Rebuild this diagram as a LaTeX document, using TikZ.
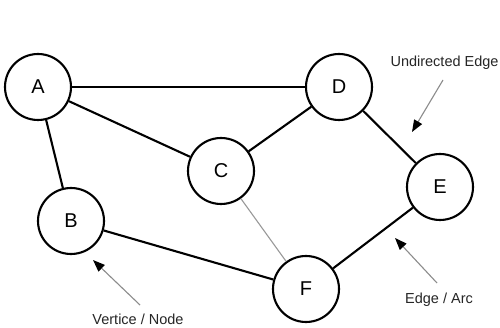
\documentclass[tikz,border=0pt]{standalone}
\usepackage{fontspec}
\setmainfont{Liberation Sans}
\usetikzlibrary{arrows.meta}
\begin{document}
\begin{tikzpicture}[x=1pt,y=-1pt,
  vert/.style={circle,draw=black,line width=2.1pt,minimum size=66pt,inner sep=0pt,font=\fontsize{20}{24}\selectfont},
  edge/.style={line width=2.1pt,black},
  thinedge/.style={line width=1.1pt,color=black!40},
  note/.style={font=\fontsize{14.5}{17}\selectfont,text=black!85},
  pointer/.style={line width=1.1pt,color=black!45,-{Triangle[length=12pt,width=9pt,color=black]}}]
\useasboundingbox (0,0) rectangle (500,328);
\fill[white] (0,0) rectangle (500,328);
\node[vert] (A) at (38,87) {A};
\node[vert] (D) at (339,87) {D};
\node[vert] (C) at (221,171) {C};
\node[vert] (E) at (440,187) {E};
\node[vert] (B) at (71,221) {B};
\node[vert] (F) at (306,289) {F};
\draw[edge] (A) -- (D);
\draw[edge] (A) -- (C);
\draw[edge] (A) -- (B);
\draw[edge] (C) -- (D);
\draw[edge] (D) -- (E);
\draw[edge] (B) -- (F);
\draw[edge] (E) -- (F);
\draw[thinedge] (C) -- (F);
\node[note,anchor=west] (ue) at (387,63) {Undirected Edge};
\node[note] (ea) at (439,300) {Edge / Arc};
\node[note] (vn) at (138,319) {Vertice / Node};
\coordinate (t1) at (443,80);
\coordinate (h1) at (412,132);
\coordinate (t2) at (437,283);
\coordinate (h2) at (395,238);
\coordinate (t3) at (140,305);
\coordinate (h3) at (93,260);
\draw[pointer] (t1) -- (h1);
\draw[pointer] (t2) -- (h2);
\draw[pointer] (t3) -- (h3);
\end{tikzpicture}
\end{document}
